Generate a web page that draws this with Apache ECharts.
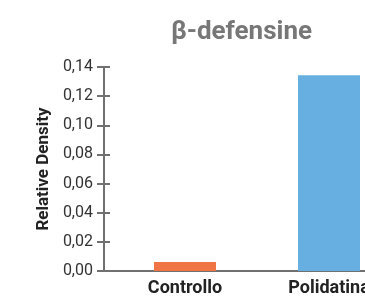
<!DOCTYPE html>
<html>
<head>
<meta charset="utf-8">
<script src="https://cdn.jsdelivr.net/npm/echarts@6/dist/echarts.min.js"></script>
<style>
  html, body { margin: 0; padding: 0; background: #fff; }
  #chart { width: 365px; height: 296px; }
</style>
</head>
<body>
<div id="chart"></div>
<script>
// categorie e valori (densità relativa)
var categories = ['Controllo', 'Polidatina']
var values = [0.0062, 0.1343]
var barColors = ['#F07444', '#67AFE0']
var yTicks = [0, 0.02, 0.04, 0.06, 0.08, 0.10, 0.12, 0.14]

var font = 'Roboto'
var axisColor = '#707070'

// barre posizionate al centro di ogni categoria (i + 0.5)
var barData = []
for (var i = 0; i < categories.length; i++) {
  barData.push({
    value: [i + 0.5, values[i]],
    itemStyle: { color: barColors[i] }
  })
}
var labelPos = categories.map(function (c, i) { return i + 0.5 })

function yAxisBase () {
  return {
    type: 'value',
    position: 'left',
    min: yTicks[0],
    max: yTicks[yTicks.length - 1],
    interval: 0.02,
    splitLine: { show: false },
    axisLine: { show: true, onZero: false, lineStyle: { color: axisColor, width: 2 } }
  }
}

var yMain = yAxisBase()
yMain.name = 'Relative Density'
yMain.nameLocation = 'middle'
yMain.nameRotate = 90
yMain.nameGap = 52
yMain.nameTextStyle = { fontFamily: font, fontWeight: 'bold', fontSize: 17, color: '#222' }
yMain.axisTick = { show: true, inside: false, length: 7, lineStyle: { color: axisColor, width: 2 } }
yMain.axisLabel = {
  margin: 11,
  fontFamily: font,
  fontSize: 16,
  color: '#333',
  formatter: function (v) { return v.toFixed(2).replace('.', ',') }
}

// secondo asse solo per le tacche interne (tacche a croce)
var yInner = yAxisBase()
yInner.axisTick = { show: true, inside: true, length: 6, lineStyle: { color: axisColor, width: 2 } }
yInner.axisLabel = { show: false }

var option = {
  animation: false,
  title: {
    text: 'β-defensine',
    left: 166,
    top: 14,
    textStyle: { fontFamily: font, fontWeight: 'bold', fontSize: 26, color: '#777' }
  },
  grid: { left: 104, right: 0, top: 67, bottom: 25, containLabel: false, outerBoundsMode: 'none' },
  xAxis: {
    type: 'value',
    min: -0.0625,
    max: 1.75,
    splitLine: { show: false },
    axisTick: { show: false },
    axisLine: { show: true, onZero: false, lineStyle: { color: axisColor, width: 2 } },
    axisLabel: {
      customValues: labelPos,
      margin: 8,
      fontFamily: font,
      fontWeight: 'bold',
      fontSize: 18,
      color: '#222',
      hideOverlap: false,
      formatter: function (v) { return categories[Math.floor(v)] || '' }
    }
  },
  yAxis: [yMain, yInner],
  series: [{
    type: 'bar',
    barWidth: 62,
    data: barData
  }]
}

var myChart = echarts.init(document.getElementById('chart'))
myChart.setOption(option)
</script>
</body>
</html>
